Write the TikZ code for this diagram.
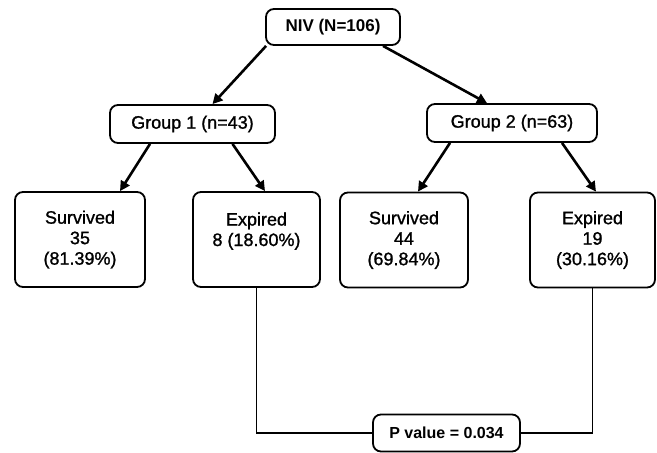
\documentclass[tikz,border=0pt]{standalone}
\usepackage{fontspec}
\setmainfont{Liberation Sans}
\newfontfamily\medfont[FakeBold=1.2]{Liberation Sans}
\usetikzlibrary{arrows.meta,calc}
\begin{document}
\begin{tikzpicture}[x=1pt,y=-1pt,
  box/.style={draw,line width=1.8pt,rounded corners=8pt,align=center,inner sep=0pt,
    font=\fontsize{18}{20.5}\selectfont\medfont},
  leaf/.style={box,minimum width=#1,minimum height=95pt},
  arr/.style={line width=2.6pt,-{Triangle[length=10pt,width=10pt]}},
  conn/.style={line width=1.4pt}]
\useasboundingbox (0,0) rectangle (657,453);
\node[box,minimum width=134pt,minimum height=36pt,font=\fontsize{17}{20}\selectfont\bfseries] (niv) at (333,27) {NIV (N=106)};
\node[box,minimum width=165pt,minimum height=38pt] (g1) at (192.5,124) {Group 1 (n=43)};
\node[box,minimum width=170pt,minimum height=38pt] (g2) at (512,123) {Group 2 (n=63)};
\node[leaf=130pt] (s1) at (80,239.5) {Survived\\35\\(81.39\%)};
\node[leaf=127pt] (e1) at (256.5,239.5) {Expired\\8 (18.60\%)\\\mbox{}};
\node[leaf=128pt] (s2) at (404,240) {Survived\\44\\(69.84\%)};
\node[leaf=125pt] (e2) at (592.5,240) {Expired\\19\\(30.16\%)};
\node[box,minimum width=147pt,minimum height=37pt,font=\fontsize{16}{20}\selectfont\bfseries] (p) at (446.5,433) {P value = 0.034};
\draw[arr] ([xshift=1pt]niv.south west) -- ([xshift=20pt]g1.north);
\draw[arr] ([xshift=50pt]niv.south) -- ([xshift=-25pt]g2.north);
\draw[arr] ([xshift=-42.5pt]g1.south) -- ([xshift=40pt]s1.north);
\draw[arr] ([xshift=40pt]g1.south) -- ([xshift=8.5pt]e1.north);
\draw[arr] ([xshift=-62pt]g2.south) -- ([xshift=14pt]s2.north);
\draw[arr] ([xshift=50pt]g2.south) -- ([xshift=3.5pt]e2.north);
\draw[conn] (e1.south) -- (e1.south |- p.west) -- (p.west);
\draw[conn] (p.east) -- (e2.south |- p.east) -- (e2.south);
\end{tikzpicture}
\end{document}
